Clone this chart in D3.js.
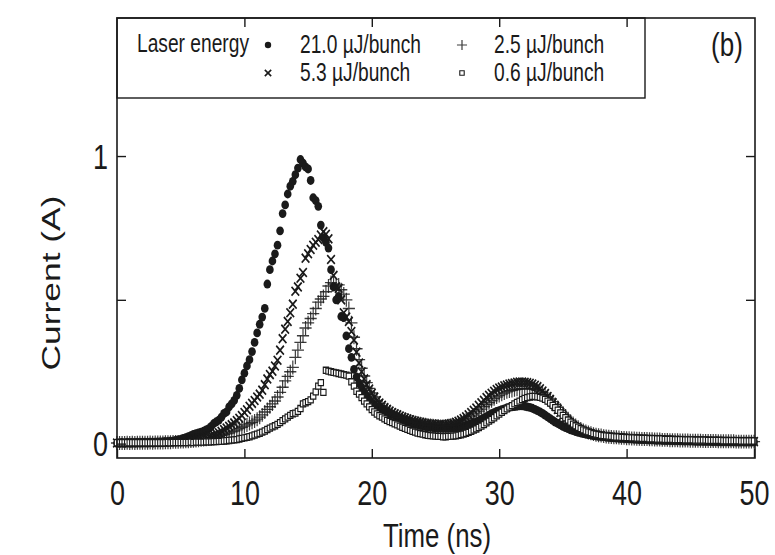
<!DOCTYPE html>
<html>
<head>
<meta charset="utf-8">
<script src="https://cdn.jsdelivr.net/npm/d3@7"></script>
<style>
  html, body { margin: 0; padding: 0; background: #fff; }
  svg { display: block; font-family: "Liberation Sans", Arial, Helvetica, sans-serif; }
  .domain { display: none; }
  .tick line { stroke: #1a1a1a; stroke-width: 1.4; }
</style>
</head>
<body>
<div id="chart"></div>
<script>
"use strict";

// sampling step of the scope trace (ns); values below are in mA
const T_STEP = 0.2;

// 21.0 uJ/bunch (filled circles)
const cur21 = [
  2,2,3,2,3, 3,2,3,3,3, 3,4,3,4,4, 4,5,5,6,6, 7,8,9,11,13,
  15,18,21,24,28, 32,35,37,40,43, 48,52,60,70,76, 82,92,105,110,128, 138,150,168,192,222,
  245,270,292,320,352, 385,415,440,470,555, 605,635,660,690,740, 800,830,868,895,912, 935,958,988,975,962,
  955,915,855,845,825, 760,715,700,680,605, 545,500,512,442,438, 375,330,300,258,232, 210,196,178,165,152,
  142,135,128,122,116, 110,105,100,96,92, 88,84,81,78,75, 72,70,68,66,64, 62,60,58,57,56,
  55,54,54,53,53, 53,54,54,55,56, 58,60,62,65,68, 72,75,79,84,89, 94,99,104,108,112,
  115,118,121,124,126, 128,129,130,131,131, 130,128,126,123,119, 115,110,105,99,93, 87,81,75,70,65,
  60,56,52,48,45, 42,39,37,35,33, 31,30,28,27,26, 25,24,23,22,21, 21,20,19,19,18,
  18,17,17,16,16, 15,15,15,14,14, 14,13,13,13,12, 12,12,12,11,11, 11,11,10,10,10,
  10,10,9,9,9, 9,9,9,8,8, 8,8,8,8,8, 7,7,7,7,7, 7,7,6,7,6,6
];

// 5.3 uJ/bunch (crosses)
const cur53 = [
  2,2,2,3,2, 3,2,3,3,3, 3,3,4,3,4, 4,4,5,5,5, 6,6,7,7,8,
  9,10,11,12,13, 14,16,17,19,21, 23,25,28,31,34, 38,43,49,54,60, 66,72,80,88,98,
  108,118,130,140,150, 162,172,186,205,225, 240,252,270,290,325, 365,398,425,455,485, 530,545,575,595,645,
  660,675,690,700,710, 725,737,728,712,640, 585,545,540,500,455, 440,425,390,360,318, 280,250,225,205,190,
  175,162,150,141,133, 125,119,113,108,104, 100,96,92,89,86, 83,80,78,76,74, 72,70,69,68,67,
  66,65,65,65,66, 67,69,71,74,78, 82,87,93,100,108, 116,124,133,142,151, 160,168,175,182,188,
  193,197,201,204,207, 209,211,213,214,214, 213,212,210,207,203, 198,191,183,174,164, 153,142,130,119,108,
  97,87,78,70,63, 57,52,47,43,40, 37,34,32,30,28, 27,26,25,24,23, 22,21,21,20,19,
  19,18,18,17,17, 16,16,15,15,15, 14,14,14,13,13, 13,12,12,12,12, 11,11,11,11,10,
  10,10,10,10,9, 9,9,9,9,9, 8,8,8,8,8, 8,8,7,7,7, 7,7,7,7,7,7
];

// 2.5 uJ/bunch (plus signs)
const cur25 = [
  2,2,2,2,3, 2,3,2,3,3, 3,3,3,4,3, 4,4,4,4,5, 5,5,6,6,6,
  7,7,8,8,9, 10,11,12,13,14, 15,17,18,20,22, 25,28,31,34,37, 41,44,48,52,57,
  61,65,70,74,79, 85,92,100,110,119, 128,138,148,162,178, 196,218,234,250,265, 300,325,352,375,402,
  420,435,452,470,492, 503,512,528,548,560, 555,548,552,535,520, 500,470,420,370,330, 292,262,235,212,192,
  176,162,150,140,131, 123,116,110,104,99, 95,91,87,84,81, 78,75,73,71,69, 67,66,64,63,62,
  61,61,60,60,61, 62,63,65,67,70, 73,77,82,87,93, 99,106,113,120,128, 135,142,149,156,162,
  167,172,176,180,183, 185,187,189,190,191, 192,192,191,190,188, 185,181,176,170,163, 155,146,136,126,116,
  106,96,87,78,70, 63,57,51,46,42, 39,36,33,31,29, 28,26,25,24,23, 22,22,21,20,20,
  19,19,18,18,17, 17,16,16,16,15, 15,14,14,14,13, 13,13,12,12,12, 12,11,11,11,11,
  10,10,10,10,10, 9,9,9,9,9, 9,8,8,8,8, 8,8,8,7,7, 7,7,7,7,7,7
];

// 0.6 uJ/bunch (open squares)
const cur06 = [
  3,3,3,3,3, 3,3,3,3,3, 3,3,3,3,3, 3,3,3,3,3, 4,3,4,4,4,
  4,4,4,4,5, 4,5,5,5,5, 6,6,6,7,7, 8,8,9,10,11, 12,13,14,16,18,
  20,22,24,27,30, 33,36,40,44,49, 54,58,62,67,73, 80,86,92,98,104, 106,112,122,138,142,
  146,152,165,180,200, 212,178,255,252,250, 248,246,244,242,240, 238,235,215,200,182, 172,160,148,138,128,
  118,110,103,97,92, 86,81,77,73,69, 65,61,57,53,50, 46,43,40,37,35, 33,31,29,28,27,
  26,25,25,24,24, 25,25,26,27,29, 31,33,36,39,43, 47,51,56,61,66, 72,78,84,90,97,
  103,109,115,121,127, 132,138,143,148,153, 157,160,162,164,164, 163,161,158,154,148, 141,133,125,116,107,
  98,90,82,75,68, 62,57,52,48,44, 41,38,35,33,31, 29,28,27,26,25, 24,23,23,22,22,
  21,21,20,20,19, 19,18,18,18,17, 17,17,16,16,16, 15,15,15,15,14, 14,14,14,13,13,
  13,13,12,12,12, 12,12,11,11,11, 11,11,11,10,10, 10,10,10,10,10, 9,9,9,9,9,9
];

const seriesLabels = ["21.0 \u00b5J/bunch", "5.3 \u00b5J/bunch", "2.5 \u00b5J/bunch", "0.6 \u00b5J/bunch"];
const xTicks = [0, 10, 20, 30, 40, 50];
const yTicks = [0, 0.5, 1];
const yTickLabels = { 0: "0", 1: "1" };

const W = 775, H = 555;
const P = { left: 117, right: 755, top: 18, bottom: 458 };
const SY = 1.3; // the scanned figure is stretched vertically
const INK = "#1a1a1a";

const svg = d3.select("#chart").append("svg").attr("width", W).attr("height", H);

const x = d3.scaleLinear().domain([0, 50]).range([P.left, P.right - 1]);
const y = d3.scaleLinear().domain([-0.05, 1.48]).range([P.bottom, P.top]);

const time = d3.range(cur21.length).map(i => i * T_STEP);

const SERIES = [
  { label: seriesLabels[0], values: cur21, kind: "circle" },
  { label: seriesLabels[1], values: cur53, kind: "times" },
  { label: seriesLabels[2], values: cur25, kind: "plus" },
  { label: seriesLabels[3], values: cur06, kind: "square" }
];

// --- marker drawing ---
function drawMarker(sel, kind, scale) {
  const k = scale || 1;
  if (kind === "circle") {
    sel.append("path").attr("d", d3.symbol(d3.symbolCircle, 46 * k)()).attr("fill", INK);
  } else if (kind === "times") {
    sel.append("path").attr("d", d3.symbol(d3.symbolTimes, 40 * k)())
      .attr("fill", "none").attr("stroke", INK).attr("stroke-width", 1.6);
  } else if (kind === "plus") {
    sel.append("path").attr("d", d3.symbol(d3.symbolPlus, 50 * k)())
      .attr("fill", "none").attr("stroke", INK).attr("stroke-width", 1.2).attr("opacity", 0.85);
  } else {
    sel.append("path").attr("d", d3.symbol(d3.symbolSquare, 28 * k)())
      .attr("fill", "#fff").attr("stroke", INK).attr("stroke-width", 1.1);
  }
}

// --- data ---
const plot = svg.append("g");
SERIES.forEach(s => {
  const pts = s.values.map((v, i) => ({ t: time[i], v: v / 1000 }));
  plot.append("g").selectAll("g")
    .data(pts)
    .enter().append("g")
    .attr("transform", d => `translate(${x(d.t)},${y(d.v)}) scale(1,1.15)`)
    .each(function () { drawMarker(d3.select(this), s.kind); });
});

// --- text helper (vertically stretched like the scan) ---
function label(txt, px, py, size, anchor, rotate, len) {
  const t = svg.append("text")
    .attr("transform", rotate
      ? `translate(${px},${py}) rotate(-90)`
      : `translate(${px},${py}) scale(1,${SY})`)
    .attr("text-anchor", anchor)
    .attr("fill", INK)
    .style("font-size", size + "px")
    .text(txt);
  if (len) t.attr("textLength", len).attr("lengthAdjust", "spacingAndGlyphs");
  return t;
}

// --- legend box ---
const LG = { w: 528, h: 80 };
svg.append("rect")
  .attr("x", P.left).attr("y", P.top).attr("width", LG.w).attr("height", LG.h)
  .attr("fill", "#fff").attr("stroke", INK).attr("stroke-width", 1.4);

label("Laser energy", 137, 52, 19.2, "start");
const legendPos = [[268, 45], [268, 73], [462, 45], [462, 73]];
SERIES.forEach((s, i) => {
  const [lx, ly] = legendPos[i];
  drawMarker(svg.append("g").attr("transform", `translate(${lx},${ly})`), s.kind, 0.7);
  label(s.label, lx + 32, ly + 8, 19.2, "start");
});

label("(b)", 727, 56, 26, "middle");

// --- frame and axes ---
svg.append("rect")
  .attr("x", P.left).attr("y", P.top)
  .attr("width", P.right - P.left).attr("height", P.bottom - P.top)
  .attr("fill", "none").attr("stroke", INK).attr("stroke-width", 1.6);

const gx = svg.append("g").attr("transform", `translate(0,${P.bottom})`)
  .call(d3.axisBottom(x).tickValues(xTicks).tickSizeInner(-9).tickSizeOuter(0).tickFormat(d3.format("d")));
gx.selectAll("text").attr("y", null).attr("dy", null)
  .attr("transform", `translate(0,47) scale(1,${SY})`)
  .attr("fill", INK).style("font-size", "27px").style("font-family", null);

svg.append("g").attr("transform", `translate(0,${P.top})`)
  .call(d3.axisTop(x).tickValues(xTicks.slice(1, -1)).tickSizeInner(-9).tickSizeOuter(0).tickFormat(""));

const gy = svg.append("g").attr("transform", `translate(${P.left},0)`)
  .call(d3.axisLeft(y).tickValues(yTicks).tickSizeInner(-9).tickSizeOuter(0).tickFormat(d => yTickLabels[d] || ""));
gy.selectAll("text").attr("x", null).attr("dy", null)
  .attr("transform", `translate(-9,12) scale(1,${SY})`)
  .attr("fill", INK).style("font-size", "27px").style("font-family", null);

svg.append("g").attr("transform", `translate(${P.right},0)`)
  .call(d3.axisRight(y).tickValues(yTicks.slice(1)).tickSizeInner(-9).tickSizeOuter(0).tickFormat(""));

label("Time (ns)", 437, 547, 26, "middle", false, 108);
label("Current (A)", 60, 283, 25, "middle", true, 175);
</script>
</body>
</html>
